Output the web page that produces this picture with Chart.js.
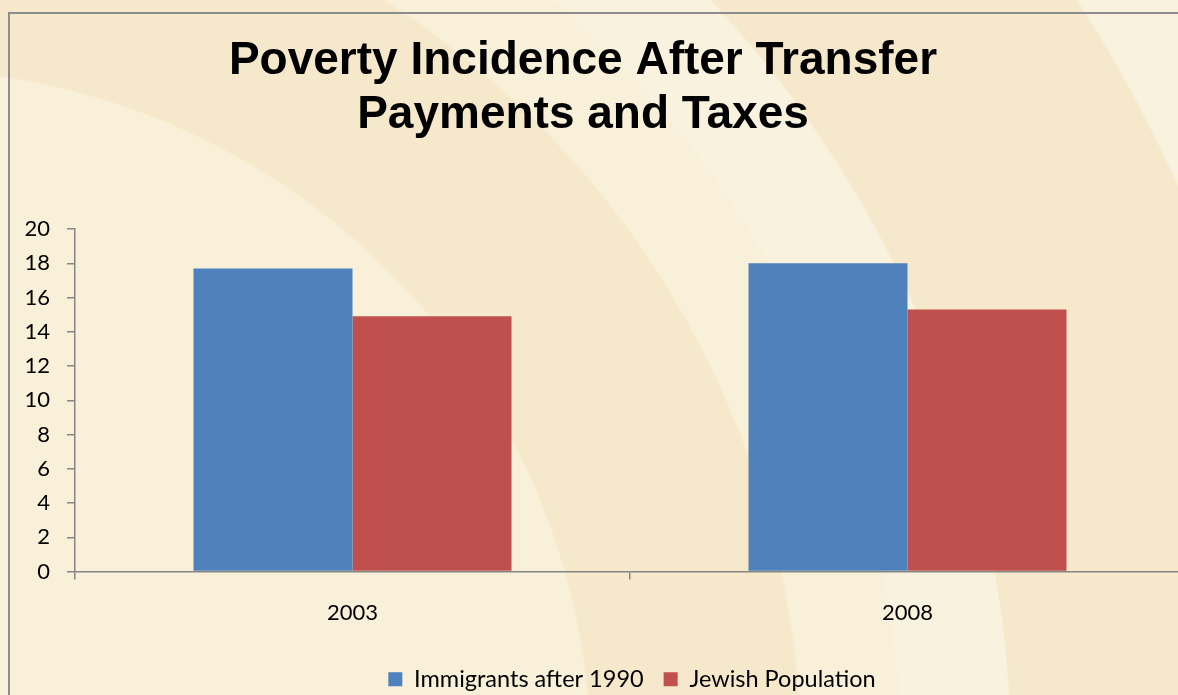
<!DOCTYPE html>
<html>
<head>
<meta charset="utf-8">
<script src="https://cdn.jsdelivr.net/npm/chart.js@4"></script>
<style>
  html, body {
    margin: 0;
    padding: 0;
    width: 1178px;
    height: 695px;
    overflow: hidden;
  }
  body {
    background-color: #F8F0D8;
    background-image:
      radial-gradient(circle at -100px 760px, #F8F0D8 0 690px, #F6E8CB 692px 900px, #F8F0D8 902px 1000px, #F9F2DE 1002px 1110px, #F6E8CB 1112px 1400px, #F9F2DE 1402px);
    position: relative;
  }
  #frame {
    position: absolute;
    left: 8px;
    top: 12px;
    width: 1200px;
    height: 720px;
    border: 2px solid #8C8C8C;
    box-sizing: border-box;
  }
  #myChart {
    position: absolute;
    left: -19px;
    top: 0;
  }
</style>
</head>
<body>
<div id="frame"></div>
<canvas id="myChart" width="1204" height="701"></canvas>
<script>
  let labels = ["2003", "2008"];
  let immigrants = [17.7, 18.0];
  let jewish = [14.9, 15.3];
  let seriesNames = ["Immigrants after 1990", "Jewish Population"];
  let yTicks = [0, 2, 4, 6, 8, 10, 12, 14, 16, 18, 20];
  let colorHex = ["#4F81BD", "#C0504D"];
  let titleLines = ["Poverty Incidence After Transfer", "Payments and Taxes"];

  let axisGray = "#868686";
  let bodyFont = "Lato, 'Open Sans', sans-serif";
  let ctx = document.getElementById("myChart").getContext("2d");

  // legend in the original sits a bit right of the slide centre
  let shiftLegend = {
    id: "shiftLegend",
    afterLayout(chart) {
      chart.legend.left += 49;
      chart.legend.right += 49;
    },
  };

  let myChart = new Chart(ctx, {
    type: "bar",
    data: {
      labels: labels,
      datasets: [
        {
          label: seriesNames[0],
          data: immigrants,
          backgroundColor: colorHex[0],
          barPercentage: 1,
          categoryPercentage: 0.573,
        },
        {
          label: seriesNames[1],
          data: jewish,
          backgroundColor: colorHex[1],
          barPercentage: 1,
          categoryPercentage: 0.573,
        },
      ],
    },
    plugins: [shiftLegend],
    options: {
      responsive: false,
      animation: false,
      devicePixelRatio: 1,
      layout: { padding: 0 },
      plugins: {
        title: {
          display: true,
          text: titleLines,
          color: "#000",
          font: { family: "'Liberation Sans', Arial, sans-serif", weight: "bold", size: 46, lineHeight: 1.174 },
          padding: { top: 34, bottom: 87 },
        },
        legend: {
          position: "bottom",
          labels: {
            color: "#000",
            boxWidth: 14,
            boxHeight: 14,
            padding: 20,
            font: { family: bodyFont, size: 23.5 },
          },
        },
        tooltip: { enabled: false },
      },
      scales: {
        x: {
          afterFit: (scale) => {
            scale.height = 76;
          },
          grid: { drawOnChartArea: false, tickLength: 8, color: axisGray, lineWidth: 1.5 },
          border: { color: axisGray, width: 1.5 },
          ticks: { color: "#000", padding: 20, font: { family: bodyFont, size: 22 } },
        },
        y: {
          min: 0,
          max: 20,
          afterBuildTicks: (scale) => {
            scale.ticks = yTicks.map((v) => ({ value: v }));
          },
          afterFit: (scale) => {
            scale.width = 94;
          },
          grid: { drawOnChartArea: false, tickLength: 8, color: axisGray, lineWidth: 1.5 },
          border: { color: axisGray, width: 1.5 },
          ticks: { color: "#000", padding: 17, font: { family: bodyFont, size: 22 } },
        },
      },
    },
  });
</script>
</body>
</html>
